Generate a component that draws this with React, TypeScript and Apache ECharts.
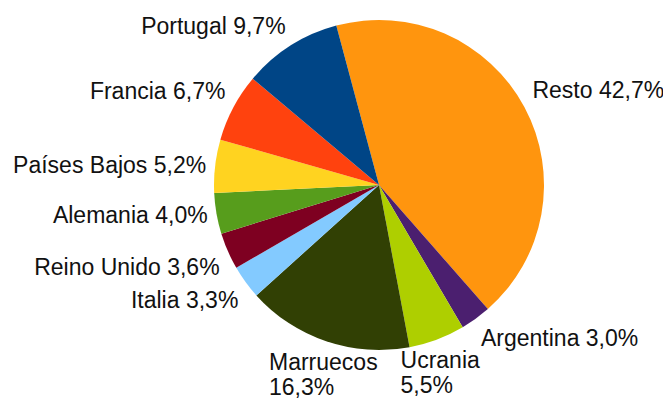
import React, { useEffect, useRef } from "react";
import * as echarts from "echarts";

const categories = [
  "Resto",
  "Argentina",
  "Ucrania",
  "Marruecos",
  "Italia",
  "Reino Unido",
  "Alemania",
  "Países Bajos",
  "Francia",
  "Portugal",
];
const values = [42.7, 3.0, 5.5, 16.3, 3.3, 3.6, 4.0, 5.2, 6.7, 9.7];
const colors = [
  "#ff950e",
  "#4b1f6f",
  "#aecf00",
  "#314004",
  "#83caff",
  "#7e0021",
  "#579d1c",
  "#ffd320",
  "#ff420e",
  "#004586",
];
const twoLineLabels = ["Marruecos", "Ucrania"];

export default function App() {
  const ref = useRef<HTMLDivElement>(null);
  useEffect(() => {
    if (!ref.current) return;
    const chart = echarts.init(ref.current, undefined, { renderer: "svg" });
    chart.setOption({
      animation: false,
      backgroundColor: "#ffffff",
      series: [
        {
          type: "pie",
          center: [379, 185],
          radius: [0, 165],
          startAngle: 105,
          clockwise: true,
          avoidLabelOverlap: false,
          data: categories.map((c, i) => ({
            name: c,
            value: values[i],
            itemStyle: { color: colors[i] },
          })),
          itemStyle: { borderWidth: 0 },
          emphasis: { disabled: true },
          label: {
            show: true,
            position: "outside",
            fontFamily: "Liberation Sans",
            fontSize: 23,
            lineHeight: 25,
            color: "#111111",
            formatter: (p: any) =>
              p.name +
              (twoLineLabels.includes(p.name) ? "\n" : " ") +
              p.value.toFixed(1).replace(".", ",") +
              "%",
          },
          labelLine: {
            show: true,
            length: 9,
            length2: 0,
            lineStyle: { opacity: 0, width: 0 },
          },
          labelLayout: (params: any) => {
            const pts = params.labelLinePoints;
            if (!pts) return {};
            const [x0, y0] = pts[0];
            const [x1, y1] = pts[1];
            const len = Math.hypot(x1 - x0, y1 - y0) || 1;
            const sx = (x1 - x0) / len;
            const sy = (y1 - y0) / len;
            const verticalAlign =
              Math.abs(sy) < 0.3 ? "middle" : sy < 0 ? "bottom" : "top";
            if (Math.abs(sx) < 0.45) {
              const w = params.labelRect ? params.labelRect.width : 0;
              return { x: x1 - w / 2, y: y1, align: "left", verticalAlign };
            }
            const align = sx > 0 ? "left" : "right";
            return { x: x1, y: y1, align, verticalAlign };
          },
        },
      ],
    });
    return () => chart.dispose();
  }, []);
  return (
    <div
      ref={ref}
      style={{ position: "absolute", left: 0, top: 0, width: 663, height: 400 }}
    />
  );
}
